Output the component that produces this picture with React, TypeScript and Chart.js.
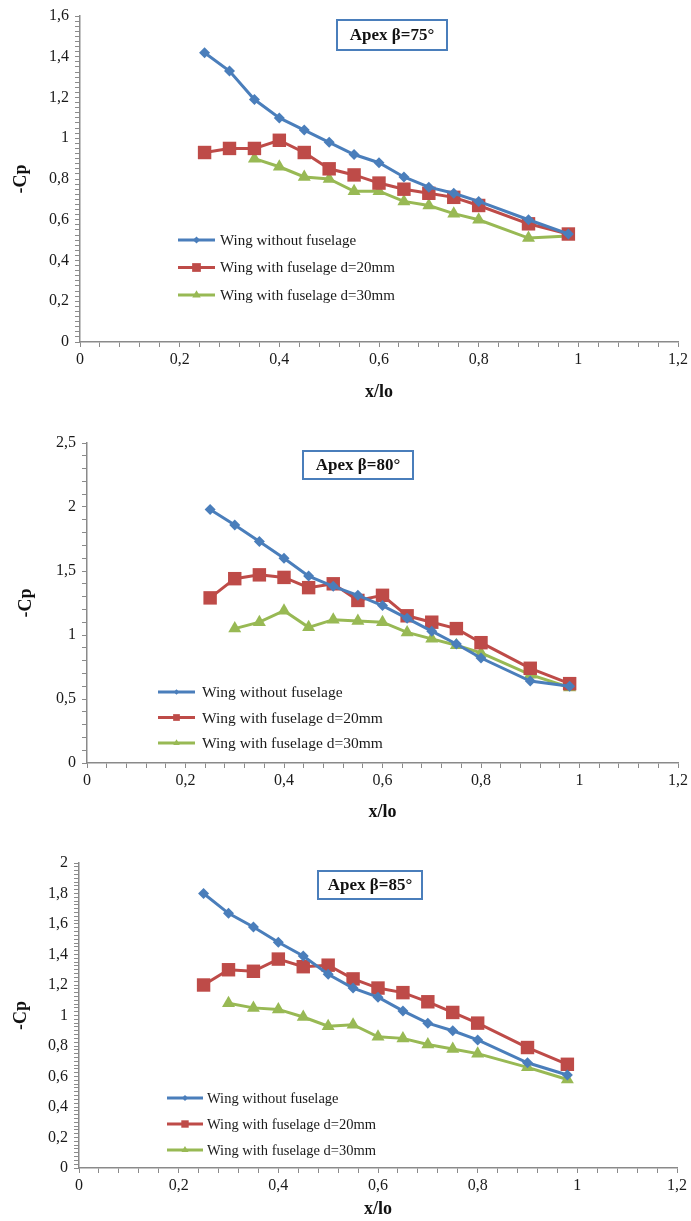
import React, { useEffect, useRef } from 'react';
import { Chart, registerables } from 'chart.js';

Chart.register(...registerables);

// ---------- data ----------
const xPositions = [0.25, 0.3, 0.35, 0.4, 0.45, 0.5, 0.55, 0.6, 0.65, 0.7, 0.75, 0.8, 0.9, 0.98];
const seriesLabels = ['Wing without fuselage', 'Wing with fuselage d=20mm', 'Wing with fuselage d=30mm'];

const noFuselage75 = [1.42, 1.33, 1.19, 1.10, 1.04, 0.98, 0.92, 0.88, 0.81, 0.76, 0.73, 0.69, 0.60, 0.53];
const fuselage20_75 = [0.93, 0.95, 0.95, 0.99, 0.93, 0.85, 0.82, 0.78, 0.75, 0.73, 0.71, 0.67, 0.58, 0.53];
const fuselage30_75 = [null, null, 0.90, 0.86, 0.81, 0.80, 0.74, 0.74, 0.69, 0.67, 0.63, 0.60, 0.51, 0.52];

const noFuselage80 = [1.98, 1.86, 1.73, 1.60, 1.46, 1.38, 1.31, 1.23, 1.13, 1.03, 0.93, 0.82, 0.64, 0.60];
const fuselage20_80 = [1.29, 1.44, 1.47, 1.45, 1.37, 1.40, 1.27, 1.31, 1.15, 1.10, 1.05, 0.94, 0.74, 0.62];
const fuselage30_80 = [null, 1.05, 1.10, 1.19, 1.06, 1.12, 1.11, 1.10, 1.02, 0.97, 0.92, 0.86, 0.69, 0.59];

const noFuselage85 = [1.80, 1.67, 1.58, 1.48, 1.39, 1.27, 1.18, 1.12, 1.03, 0.95, 0.90, 0.84, 0.69, 0.61];
const fuselage20_85 = [1.20, 1.30, 1.29, 1.37, 1.32, 1.33, 1.24, 1.18, 1.15, 1.09, 1.02, 0.95, 0.79, 0.68];
const fuselage30_85 = [null, 1.08, 1.05, 1.04, 0.99, 0.93, 0.94, 0.86, 0.85, 0.81, 0.78, 0.75, 0.66, 0.58];

const panelTitles = ['Apex β=75°', 'Apex β=80°', 'Apex β=85°'];
const yAxisTitle = '-Cp';
const xAxisTitle = 'x/lo';
const xAxisMax = 1.2;
const xMajorStep = 0.2;
const xMinorStep = 0.04;
const yAxisMax = [1.6, 2.5, 2];
const yMajorStep = [0.2, 0.5, 0.2];
const yMinorStep = [0.025, 0.1, 0.025];

// ---------- styles / layout ----------
const WIDTH = 691;
const seriesColors = ['#4a7ebb', '#be4b48', '#98b954'];
const seriesStyles = ['rectRot', 'rect', 'triangle'];
const seriesRadius = [5.5, 9.5, 7.5];
const FONT = "'Liberation Serif', 'Times New Roman', serif";

const panels = [
  {
    top: 0, height: 410,
    area: { left: 80, right: 678, top: 16, bottom: 342 },
    box: { x: 337, y: 20, w: 110, h: 30 },
    legend: { x: 178, y: 240, dy: 27.5, len: 37, textX: 220, font: 15, mscale: 0.65 },
    yTitlePad: 11, xTitlePad: 7,
  },
  {
    top: 420, height: 410,
    area: { left: 87, right: 678, top: 23, bottom: 343 },
    box: { x: 303, y: 31, w: 110, h: 28 },
    legend: { x: 158, y: 272, dy: 25.5, len: 37, textX: 202, font: 15.5, mscale: 0.5 },
    yTitlePad: 16, xTitlePad: 7,
  },
  {
    top: 835, height: 386,
    area: { left: 79, right: 677, top: 28, bottom: 333 },
    box: { x: 318, y: 36, w: 104, h: 28 },
    legend: { x: 167, y: 263, dy: 26, len: 36, textX: 207, font: 14.5, mscale: 0.55 },
    yTitlePad: 11, xTitlePad: 1,
  },
];

const panelSeries = [
  [noFuselage75, fuselage20_75, fuselage30_75],
  [noFuselage80, fuselage20_80, fuselage30_80],
  [noFuselage85, fuselage20_85, fuselage30_85],
];

function isMultiple(v: number, step: number) {
  const q = v / step;
  return Math.abs(q - Math.round(q)) < 1e-6;
}
function fmt(v: number) {
  const r = Math.round(v * 100) / 100;
  return String(r).replace('.', ',');
}

function drawMarker(ctx: CanvasRenderingContext2D, style: string, x: number, y: number, r: number, color: string) {
  ctx.save();
  ctx.fillStyle = color;
  ctx.beginPath();
  if (style === 'rect') {
    const s = Math.SQRT1_2 * r;
    ctx.rect(x - s, y - s, 2 * s, 2 * s);
  } else if (style === 'rectRot') {
    ctx.moveTo(x, y - r);
    ctx.lineTo(x + r, y);
    ctx.lineTo(x, y + r);
    ctx.lineTo(x - r, y);
    ctx.closePath();
  } else {
    const a = (2 * Math.PI) / 3;
    ctx.moveTo(x, y - r);
    ctx.lineTo(x + Math.sin(a) * r, y - Math.cos(a) * r);
    ctx.lineTo(x + Math.sin(2 * a) * r, y - Math.cos(2 * a) * r);
    ctx.closePath();
  }
  ctx.fill();
  ctx.restore();
}

const overlayPlugin = {
  id: 'overlay',
  afterDraw(chart: any, _args: any, opts: any) {
    const ctx: CanvasRenderingContext2D = chart.ctx;
    const { box, legend, title } = opts;
    // title box
    ctx.save();
    ctx.fillStyle = '#ffffff';
    ctx.fillRect(box.x, box.y, box.w, box.h);
    ctx.strokeStyle = '#4a7ebb';
    ctx.lineWidth = 2;
    ctx.strokeRect(box.x, box.y, box.w, box.h);
    ctx.fillStyle = '#111';
    ctx.font = `bold 17px ${FONT}`;
    ctx.textAlign = 'center';
    ctx.textBaseline = 'middle';
    ctx.fillText(title, box.x + box.w / 2, box.y + box.h / 2 + 1);
    ctx.restore();
    // legend
    chart.data.datasets.forEach((ds: any, i: number) => {
      const y = legend.y + i * legend.dy;
      ctx.save();
      ctx.strokeStyle = ds.borderColor;
      ctx.lineWidth = 3;
      ctx.beginPath();
      ctx.moveTo(legend.x, y);
      ctx.lineTo(legend.x + legend.len, y);
      ctx.stroke();
      drawMarker(ctx, ds.pointStyle, legend.x + legend.len / 2, y, ds.pointRadius * legend.mscale, ds.borderColor);
      ctx.fillStyle = '#1a1a1a';
      ctx.font = `${legend.font}px ${FONT}`;
      ctx.textAlign = 'left';
      ctx.textBaseline = 'middle';
      ctx.fillText(ds.label, legend.textX, y + 1);
      ctx.restore();
    });
  },
};

function Panel({ index }: { index: number }) {
  const ref = useRef<HTMLCanvasElement>(null);
  const p = panels[index];
  useEffect(() => {
    if (!ref.current) return;
    const datasets = panelSeries[index].map((vals, i) => ({
      label: seriesLabels[i],
      data: xPositions
        .map((x, k) => ({ x, y: vals[k] }))
        .filter((pt) => pt.y !== null && pt.y !== undefined),
      borderColor: seriesColors[i],
      backgroundColor: seriesColors[i],
      borderWidth: 3,
      pointStyle: seriesStyles[i],
      pointRadius: seriesRadius[i],
      pointBorderWidth: 0,
      pointBackgroundColor: seriesColors[i],
      tension: 0,
      fill: false,
    }));
    const axisColor = '#8a8a8a';
    const chart = new Chart(ref.current, {
      type: 'line',
      data: { datasets },
      plugins: [overlayPlugin],
      options: {
        animation: false,
        responsive: false,
        maintainAspectRatio: false,
        devicePixelRatio: 1,
        layout: {
          padding: { left: 0, top: p.area.top, right: WIDTH - p.area.right, bottom: 0 },
        },
        plugins: {
          legend: { display: false },
          title: { display: false },
          tooltip: { enabled: false },
          overlay: { box: p.box, legend: p.legend, title: panelTitles[index] },
        } as any,
        scales: {
          x: {
            type: 'linear',
            min: 0,
            max: xAxisMax,
            afterFit: (s: any) => { s.height = p.height - p.area.bottom; },
            border: { display: true, color: axisColor, width: 1.5 },
            grid: { drawOnChartArea: false, drawTicks: true, tickLength: 5, color: axisColor, tickWidth: 1 },
            ticks: {
              stepSize: xMinorStep,
              autoSkip: false,
              maxRotation: 0,
              padding: 3,
              color: '#1a1a1a',
              font: { family: FONT, size: 16 },
              callback: (v: any) => (isMultiple(Number(v), xMajorStep) ? fmt(Number(v)) : ''),
            },
            title: {
              display: true,
              text: xAxisTitle,
              color: '#111',
              font: { family: FONT, size: 18, weight: 'bold' },
              padding: { top: 0, bottom: p.xTitlePad },
            },
          },
          y: {
            type: 'linear',
            min: 0,
            max: yAxisMax[index],
            afterFit: (s: any) => { s.width = p.area.left; },
            border: { display: true, color: axisColor, width: 1.5 },
            grid: { drawOnChartArea: false, drawTicks: true, tickLength: 5, color: axisColor, tickWidth: 1 },
            ticks: {
              stepSize: yMinorStep[index],
              autoSkip: false,
              padding: 6,
              color: '#1a1a1a',
              font: { family: FONT, size: 16 },
              callback: (v: any) => (isMultiple(Number(v), yMajorStep[index]) ? fmt(Number(v)) : ''),
            },
            title: {
              display: true,
              text: yAxisTitle,
              color: '#111',
              font: { family: FONT, size: 18, weight: 'bold' },
              padding: { top: p.yTitlePad, bottom: 0 },
            },
          },
        },
      } as any,
    });
    return () => chart.destroy();
  }, [index]);
  return (
    <canvas
      ref={ref}
      width={WIDTH}
      height={p.height}
      style={{ position: 'absolute', left: 0, top: p.top, width: WIDTH, height: p.height }}
    />
  );
}

export default function App() {
  return (
    <div style={{ position: 'absolute', left: 0, top: 0, width: WIDTH, height: 1221, background: '#fff' }}>
      {panels.map((_, i) => (
        <Panel key={i} index={i} />
      ))}
    </div>
  );
}
